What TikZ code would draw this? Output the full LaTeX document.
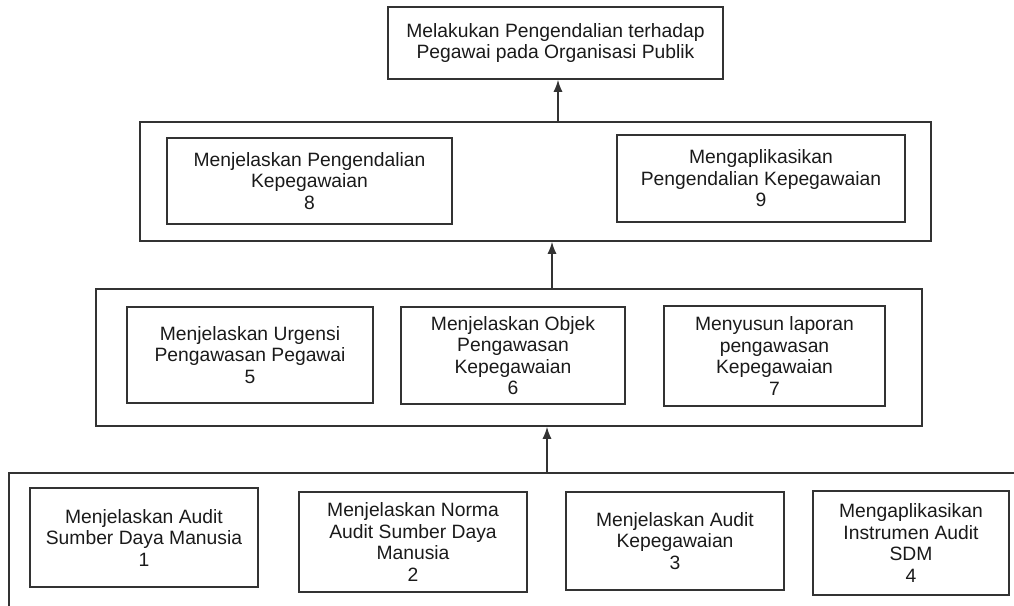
\documentclass[tikz,border=0pt]{standalone}
\usepackage{fontspec}
\setmainfont{Liberation Sans}
\usetikzlibrary{arrows.meta}
\definecolor{ln}{HTML}{333333}
\definecolor{tx}{HTML}{1A1A1A}
\begin{document}
\begin{tikzpicture}[x=1pt,y=-1pt,
  bx/.style={draw=ln,line width=1.5pt,inner sep=0pt,align=center,text=tx,
    font=\fontsize{19.3}{21.5}\selectfont},
  cont/.style={draw=ln,line width=1.5pt,inner sep=0pt},
  arr/.style={draw=ln,line width=1.5pt,-{Latex[length=12pt,width=9pt]}}]
\useasboundingbox (0,0) rectangle (1014,605);
\clip (0,0) rectangle (1014,605);
% level 4 (top)
\node[bx,minimum width=335pt,minimum height=72pt] (top) at (555.5,43)
  {Melakukan Pengendalian terhadap\\Pegawai pada Organisasi Publik};
% level 3
\node[cont,minimum width=791pt,minimum height=119pt] (c2) at (535.5,181.5) {};
\node[bx,minimum width=285pt,minimum height=86pt] (b8) at (309.5,181)
  {Menjelaskan Pengendalian\\Kepegawaian\\8};
\node[bx,minimum width=288pt,minimum height=87pt] (b9) at (761,178.5)
  {Mengaplikasikan\\Pengendalian Kepegawaian\\9};
% level 2
\node[cont,minimum width=826pt,minimum height=137pt] (c3) at (509,357.5) {};
\node[bx,minimum width=246pt,minimum height=96pt] (b5) at (250,355)
  {Menjelaskan Urgensi\\Pengawasan Pegawai\\5};
\node[bx,minimum width=224pt,minimum height=97pt] (b6) at (513,355.5)
  {Menjelaskan Objek\\Pengawasan\\Kepegawaian\\6};
\node[bx,minimum width=221pt,minimum height=100pt] (b7) at (774.5,356)
  {Menyusun laporan\\pengawasan\\Kepegawaian\\7};
% level 1 (cut off)
\node[cont,minimum width=1040pt,minimum height=160pt] (c4) at (529,553) {};
\node[bx,minimum width=228pt,minimum height=99pt] (b1) at (144,537.5)
  {Menjelaskan Audit\\Sumber Daya Manusia\\1};
\node[bx,minimum width=228pt,minimum height=100pt] (b2) at (413,542)
  {Menjelaskan Norma\\Audit Sumber Daya\\Manusia\\2};
\node[bx,minimum width=218pt,minimum height=98pt] (b3) at (675,541)
  {Menjelaskan Audit\\Kepegawaian\\3};
\node[bx,minimum width=196pt,minimum height=104pt] (b4) at (911,543)
  {Mengaplikasikan\\Instrumen Audit\\SDM\\4};
% arrows
\coordinate (a1) at (558,0);
\coordinate (a2) at (552,0);
\coordinate (a3) at (547,0);
\draw[arr] (c2.north -| a1) -- (top.south -| a1);
\draw[arr] (c3.north -| a2) -- (c2.south -| a2);
\draw[arr] (c4.north -| a3) -- (c3.south -| a3);
\end{tikzpicture}
\end{document}
